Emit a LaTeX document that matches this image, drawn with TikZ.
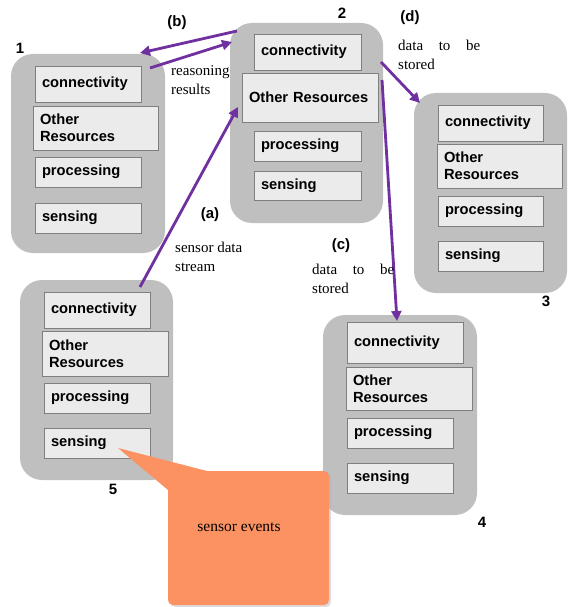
\documentclass[tikz,border=0pt]{standalone}
\usepackage{fontspec}
\setmainfont{Liberation Serif}
\setsansfont{Liberation Sans}
\usetikzlibrary{arrows.meta}
\definecolor{purp}{RGB}{112,48,160}
\definecolor{outg}{RGB}{191,191,191}
\definecolor{inf}{RGB}{235,235,235}
\definecolor{inb}{RGB}{127,127,127}
\definecolor{callc}{RGB}{252,146,98}
\newcommand\ibox[6]{%
  \pgfmathsetmacro\bw{#4-#2}\pgfmathsetmacro\bh{#5-#3}\pgfmathsetmacro\tw{#4-#2-14}%
  \node[inbox, minimum width=\bw pt, minimum height=\bh pt, text width=\tw pt] (#1) at ({(#2+#4)/2},{(#3+#5)/2}) {#6};}
\newcommand\obox[5]{%
  \pgfmathsetmacro\bw{#4-#2}\pgfmathsetmacro\bh{#5-#3}%
  \node[outbox, minimum width=\bw pt, minimum height=\bh pt] (#1) at ({(#2+#4)/2},{(#3+#5)/2}) {};}
\begin{document}
\begin{tikzpicture}[x=1pt,y=-1pt,
  inbox/.style={draw=inb, line width=0.8pt, fill=inf, font=\sffamily\bfseries\fontsize{14.7}{17}\selectfont, align=left, inner xsep=7pt, inner ysep=0pt},
  outbox/.style={fill=outg, rounded corners=22pt, draw=none, inner sep=0pt},
  arr/.style={draw=purp, line width=2.8pt, -{Triangle[length=10pt,width=10pt]}},
  num/.style={font=\sffamily\bfseries\fontsize{15}{18}\selectfont, inner sep=0pt},
  note/.style={font=\fontsize{15}{19}\selectfont, align=left, inner sep=0pt, anchor=west}]
\useasboundingbox (0,0) rectangle (568,607);
% group 1
\obox{g1}{11}{54}{165}{253}
\ibox{g1c}{35}{66}{141}{102}{connectivity}
\ibox{g1o}{33}{106}{158}{150}{Other\\Resources}
\ibox{g1p}{35}{157}{141}{187}{processing}
\ibox{g1s}{35}{203}{141}{233}{sensing}
\node[num] (n1) at (20,48) {1};
% group 2
\obox{g2}{230}{23}{383}{223}
\ibox{g2c}{254}{34}{361}{70}{connectivity}
\ibox{g2o}{242}{73}{378}{122}{Other Resources}
\ibox{g2p}{254}{131}{361}{161}{processing}
\ibox{g2s}{254}{171}{361}{200}{sensing}
\node[num] (n2) at (342,13) {2};
% group 3
\obox{g3}{414}{93}{567}{293}
\ibox{g3c}{438}{105}{543}{141}{connectivity}
\ibox{g3o}{437}{144}{562}{188}{Other\\Resources}
\ibox{g3p}{438}{196}{543}{226}{processing}
\ibox{g3s}{438}{241}{543}{271}{sensing}
\node[num] (n3) at (546,301) {3};
% group 5
\obox{g5}{20}{280}{173}{480}
\ibox{g5c}{44}{292}{150}{328}{connectivity}
\ibox{g5o}{42}{331}{168}{376}{Other\\Resources}
\ibox{g5p}{44}{383}{150}{413}{processing}
\ibox{g5s}{44}{428}{150}{458}{sensing}
\node[num] (n5) at (113,489) {5};
% group 4
\obox{g4}{323}{315}{477}{515}
\ibox{g4c}{347}{322}{463}{363}{connectivity}
\ibox{g4o}{346}{367}{472}{410}{Other\\Resources}
\ibox{g4p}{347}{418}{453}{448}{processing}
\ibox{g4s}{347}{463}{453}{493}{sensing}
\node[num] (n4) at (482,522) {4};
% callout
\coordinate (tip) at (118,448);
\fill[gray!60, opacity=0.45, rounded corners=5pt] (170,473) rectangle (331,607);
\node[fill=callc, rounded corners=5pt, minimum width=161pt, minimum height=134pt, inner sep=0pt] (call) at (248.5,538) {};
\fill[callc] (207,471) -- (tip) -- (168,490) -- cycle;
\node[font=\fontsize{15.5}{18}\selectfont, inner sep=0pt] (ct) at (239,527) {sensor events};
% arrows
\coordinate (b1s) at (237,31); \coordinate (b1e) at (140,53);
\coordinate (b2s) at (150,68); \coordinate (b2e) at (232,42);
\coordinate (as) at (140,287); \coordinate (ae) at (238,107);
\coordinate (ds) at (381,62); \coordinate (de) at (420,103);
\coordinate (cs) at (382,80); \coordinate (ce) at (397,321);
\draw[arr] (b1s) -- (b1e);
\draw[arr] (b2s) -- (b2e);
\draw[arr] (as) -- (ae);
\draw[arr] (ds) -- (de);
\draw[arr] (cs) -- (ce);
% labels
\node[num] (lb) at (177,23) {(b)};
\node[num] (la) at (210,215) {(a)};
\node[num] (lc) at (341,246) {(c)};
\node[num] (ld) at (410,18) {(d)};
\node[note] (tr) at (171,80) {reasoning\\results};
\node[note] (ts) at (175,257) {sensor data\\stream};
\node[note, text width=82pt] (tc) at (312,279) {data\hfill to\hfill be\\stored};
\node[note, text width=82pt] (td) at (398,55) {data\hfill to\hfill be\\stored};
\end{tikzpicture}
\end{document}
